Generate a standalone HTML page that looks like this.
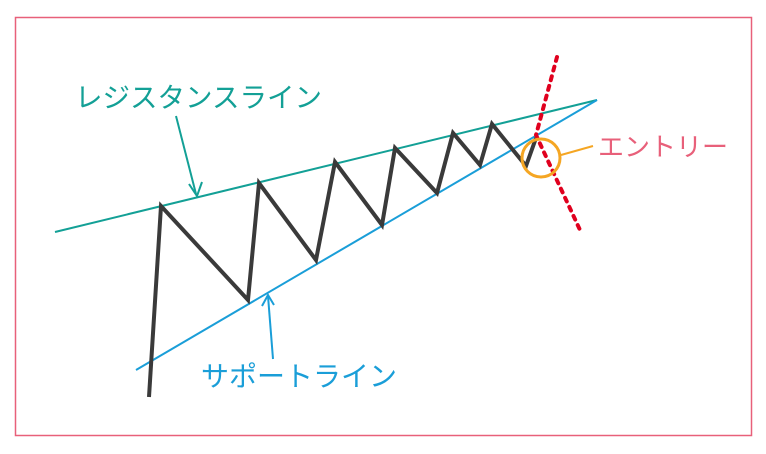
<!DOCTYPE html>
<html><head><meta charset="utf-8"><style>
html,body{margin:0;padding:0;background:#fff;}
svg{display:block;}
text{font-family:"Liberation Sans","Noto Sans CJK JP",sans-serif;}
</style></head><body>
<svg width="766" height="454" viewBox="0 0 766 454" xmlns="http://www.w3.org/2000/svg">
<rect x="15.5" y="17.5" width="736" height="418" fill="#fff" stroke="#e8607a" stroke-width="1.5"/>
<line x1="55" y1="232" x2="597" y2="100" stroke="#13a096" stroke-width="2"/>
<line x1="136" y1="370" x2="597" y2="100" stroke="#1a9ed8" stroke-width="2"/>
<polyline points="149,397 161,206 248,300 259,183 316,260 335,162 382,225 395,148 437,193 453,133 480,165 492,124 526,166 536,138" fill="none" stroke="#3a3a3a" stroke-width="4" stroke-linejoin="miter"/>
<polyline points="557,57 536,135 580,230" fill="none" stroke="#e0001e" stroke-width="4" stroke-dasharray="4,6" stroke-linecap="round"/>
<circle cx="541" cy="158" r="19" fill="none" stroke="#f5a623" stroke-width="3"/>
<line x1="561" y1="155" x2="593" y2="146" stroke="#f5a623" stroke-width="2"/>
<text x="598" y="156" font-size="26" fill="#e8607a">エントリー</text>
<text x="75" y="107" font-size="27.5" fill="#13a096">レジスタンスライン</text>
<line x1="176" y1="116" x2="196" y2="194" stroke="#13a096" stroke-width="2"/>
<polyline points="189,184 197,196 202,182" fill="none" stroke="#13a096" stroke-width="2"/>
<line x1="273" y1="359" x2="268" y2="296" stroke="#1a9ed8" stroke-width="2"/>
<polyline points="262,306 268,295 274,305" fill="none" stroke="#1a9ed8" stroke-width="2"/>
<text x="201" y="386" font-size="28" fill="#1a9ed8">サポートライン</text>
</svg>
</body></html>
